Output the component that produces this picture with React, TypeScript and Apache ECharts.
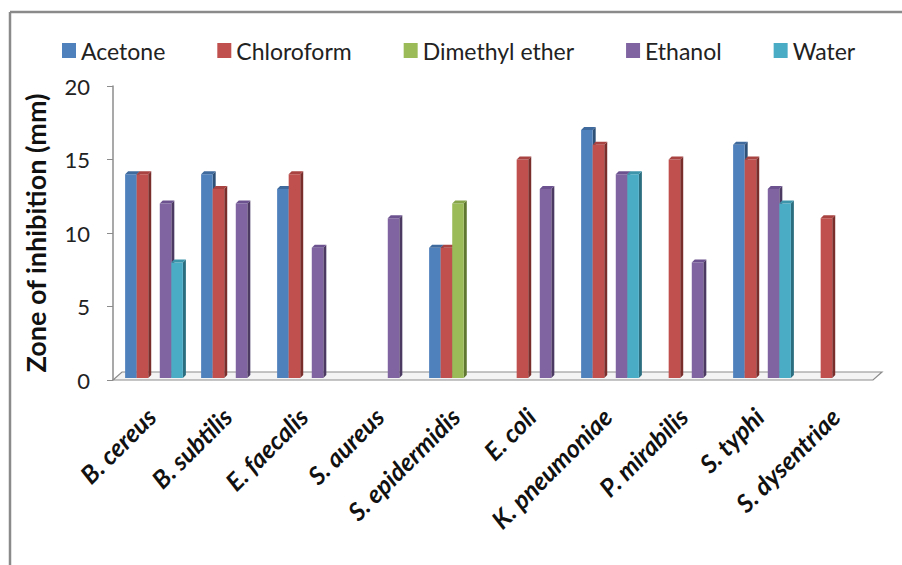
import React, { useEffect, useRef } from "react";
import * as echarts from "echarts";

const categories = [
  "B. cereus",
  "B. subtilis",
  "E. faecalis",
  "S. aureus",
  "S. epidermidis",
  "E. coli",
  "K. pneumoniae",
  "P. mirabilis",
  "S. typhi",
  "S. dysentriae",
];
const seriesNames = ["Acetone", "Chloroform", "Dimethyl ether", "Ethanol", "Water"];
const acetone = [14, 14, 13, 0, 9, 0, 17, 0, 16, 0];
const chloroform = [14, 13, 14, 0, 9, 15, 16, 15, 15, 11];
const dimethylEther = [0, 0, 0, 0, 12, 0, 0, 0, 0, 0];
const ethanol = [12, 12, 9, 11, 0, 13, 14, 8, 13, 0];
const water = [8, 0, 0, 0, 0, 0, 14, 0, 12, 0];
const yTicks = [0, 5, 10, 15, 20];

const colors = ["#4F81BD", "#C0504D", "#9BBB59", "#8064A2", "#4BACC6"];
const darks = ["#2E5077", "#7A2E2C", "#5F7731", "#4C3A63", "#2A6E80"];
const tops = ["#3F6A9E", "#A84341", "#86A44A", "#6C5390", "#3D95AC"];

export default function App() {
  const ref = useRef<HTMLDivElement>(null);
  useEffect(() => {
    if (!ref.current) return;
    const chart = echarts.init(ref.current, undefined, { renderer: "svg" });
    const allData = [acetone, chloroform, dimethylEther, ethanol, water];
    const font = "Lato, 'Open Sans', sans-serif";
    const nSeries = seriesNames.length;

    const makeRender = (si: number) => (params: any, api: any) => {
      const cat = api.value(0);
      const val = api.value(1);
      if (!val) return null;
      const top = api.coord([cat, val]);
      const base = api.coord([cat, 0]);
      const band = api.size([1, 0])[0];
      const slot = (band * 0.76) / nSeries;
      const x = top[0] - (nSeries / 2) * slot + si * slot + 3;
      const fw = slot;
      const d = 3;
      const yt = top[1];
      const yb = base[1] - 2;
      return {
        type: "group",
        children: [
          {
            type: "polygon",
            shape: {
              points: [
                [x + fw, yt],
                [x + fw + d, yt - d],
                [x + fw + d, yb - d],
                [x + fw, yb],
              ],
            },
            style: { fill: darks[si] },
          },
          {
            type: "rect",
            shape: { x: x, y: yt, width: fw, height: yb - yt },
            style: { fill: colors[si] },
          },
          {
            type: "polygon",
            shape: {
              points: [
                [x, yt],
                [x + d, yt - d],
                [x + fw + d, yt - d],
                [x + fw, yt],
              ],
            },
            style: { fill: tops[si] },
          },
        ],
      };
    };

    chart.setOption({
      animation: false,
      backgroundColor: "#fff",
      textStyle: { fontFamily: font },
      color: colors,
      legend: {
        data: seriesNames,
        left: 57,
        top: 34,
        icon: "rect",
        itemWidth: 14,
        itemHeight: 15,
        itemGap: 52,
        textStyle: { fontSize: 23, color: "#222", fontFamily: font },
      },
      grid: { left: 113, right: 29, top: 86, bottom: 185, containLabel: false },
      xAxis: {
        type: "category",
        data: categories,
        axisLine: { show: false },
        axisTick: { show: false },
        axisLabel: {
          rotate: 45,
          margin: 32,
          fontSize: 25,
          fontWeight: "bold",
          fontStyle: "italic",
          color: "#111",
          fontFamily: font,
          interval: 0,
        },
      },
      yAxis: {
        type: "value",
        min: yTicks[0],
        max: yTicks[yTicks.length - 1],
        interval: 5,
        name: "Zone of inhibition (mm)",
        nameLocation: "middle",
        nameGap: 64,
        nameTextStyle: { fontSize: 27, fontWeight: "bold", color: "#111", fontFamily: font },
        axisLine: { show: true, lineStyle: { color: "#8c8c8c", width: 1.5 } },
        axisTick: { show: true, length: 6, lineStyle: { color: "#8c8c8c" } },
        axisLabel: { fontSize: 22, color: "#222", margin: 23, fontFamily: font },
        splitLine: { show: false },
      },
      series: seriesNames.map((name, i) => ({
        name,
        type: "custom",
        renderItem: makeRender(i),
        itemStyle: { color: colors[i] },
        data: allData[i].map((v, c) => [c, v]),
        encode: { x: 0, y: 1 },
        z: 3,
      })),
      graphic: [
        {
          type: "line",
          shape: { x1: 10, y1: 12, x2: 902, y2: 12 },
          style: { stroke: "#8a8a8a", lineWidth: 2.5 },
        },
        {
          type: "line",
          shape: { x1: 10, y1: 12, x2: 10, y2: 565 },
          style: { stroke: "#8a8a8a", lineWidth: 2.5 },
        },
        {
          type: "polygon",
          shape: { points: [[113, 380], [122, 372], [882, 372], [873, 380]] },
          style: { stroke: "#8c8c8c", lineWidth: 1.2, fill: "#f4f4f4" },
          z: 1,
        },
      ],
    });
    return () => chart.dispose();
  }, []);
  return (
    <div
      ref={ref}
      style={{ position: "fixed", left: 0, top: 0, width: 902, height: 565 }}
    />
  );
}
